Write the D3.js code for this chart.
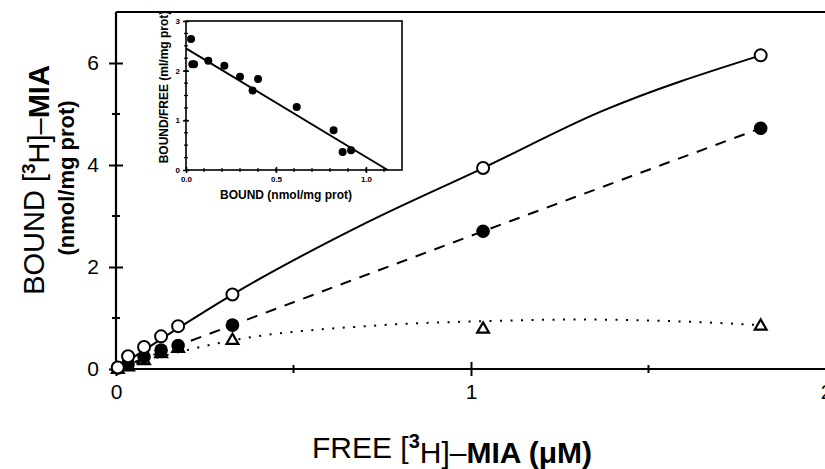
<!DOCTYPE html>
<html><head><meta charset="utf-8">
<script src="https://cdn.jsdelivr.net/npm/d3@7"></script>
<style>body{margin:0;background:#fff}svg{display:block}text{font-family:"Liberation Sans",Arial,Helvetica,sans-serif;fill:#000}</style>
</head><body>
<script>
// ---- main plot data (FREE µM vs BOUND nmol/mg prot)
const freeX    = [0.005, 0.034, 0.079, 0.127, 0.175, 0.328, 1.034, 1.816];
const totalY   = [0.03, 0.25, 0.43, 0.64, 0.84, 1.46, 3.94, 6.15];   // open circles
const specificY= [0.02, 0.10, 0.24, 0.37, 0.46, 0.86, 2.70, 4.72];   // filled circles
const nonspecY = [0.01, 0.06, 0.18, 0.32, 0.42, 0.58, 0.80, 0.86];   // triangles
// fitted curves
const fitTotalX = [0, 0.175, 0.328, 0.7, 1.034, 1.367, 1.816];
const fitTotalY = [0, 0.80, 1.46, 2.85, 3.94, 5.05, 6.15];
const fitSpecX  = [0, 0.328, 1.034, 1.816];
const fitSpecY  = [0, 0.86, 2.70, 4.72];
const fitNonX   = [0, 0.2, 0.328, 0.75, 1.05, 1.3, 1.6, 1.816];
const fitNonY   = [0, 0.37, 0.56, 0.86, 0.94, 0.97, 0.93, 0.86];
const xTicks = [0, 1, 2], xMinor = [0.5, 1.5];
const yTicks = [0, 2, 4, 6], yMinor = [1, 3, 5];
// ---- inset Scatchard data
const insetBound = [0.028, 0.035, 0.045, 0.124, 0.213, 0.30, 0.37, 0.40, 0.615, 0.82, 0.87, 0.917];
const insetBF    = [2.64, 2.13, 2.13, 2.20, 2.10, 1.88, 1.60, 1.83, 1.27, 0.80, 0.36, 0.40];
const insetFitX  = [0, 1.12];
const insetFitY  = [2.45, 0];
const insetXTicks = [0, 0.5, 1.0], insetYTicks = [0, 1, 2, 3];

const W = 825, H = 469;
const svg = d3.select("body").append("svg").attr("width", W).attr("height", H);

const x = d3.scaleLinear([0, 2], [116, 826]);
const y = d3.scaleLinear([0, 7], [369, 12]);

// frame line at top
svg.append("line").attr("x1", x(0)).attr("x2", W).attr("y1", y(7)).attr("y2", y(7)).attr("stroke", "#000").attr("stroke-width", 2);

// axes
const gx = svg.append("g").attr("transform", `translate(0,${y(0)})`)
  .call(d3.axisBottom(x).tickValues(xTicks).tickFormat(d3.format("d")).tickSize(7).tickPadding(8));
const gy = svg.append("g").attr("transform", `translate(${x(0)},0)`)
  .call(d3.axisLeft(y).tickValues(yTicks).tickFormat(d3.format("d")).tickSize(7).tickPadding(12));
[gx, gy].forEach(g => {
  g.select(".domain").attr("stroke", "#000").attr("stroke-width", 2.2);
  g.selectAll(".tick line").attr("stroke-width", 2);
  g.selectAll(".tick text").attr("font-size", 21).attr("fill", "#000");
});
gx.select(".domain").attr("d", `M${x(0)},0H${W}`);
gy.select(".domain").attr("d", `M0,${y(0)}V${y(7)}`);
gx.selectAll(".tick line").attr("y1", -7).attr("y2", 7);
gy.selectAll(".tick line").attr("x1", 7).attr("x2", -7);
gy.selectAll(".tick text").attr("dx", 2);
svg.append("g").selectAll("line").data(xMinor).join("line")
  .attr("x1", d => x(d)).attr("x2", d => x(d)).attr("y1", y(0) - 4).attr("y2", y(0) + 4)
  .attr("stroke", "#000").attr("stroke-width", 2);
svg.append("g").selectAll("line").data(yMinor).join("line")
  .attr("y1", d => y(d)).attr("y2", d => y(d)).attr("x1", x(0) - 4).attr("x2", x(0) + 4)
  .attr("stroke", "#000").attr("stroke-width", 2);

// fitted curves
const line = d3.line().x(d => x(d[0])).y(d => y(d[1])).curve(d3.curveMonotoneX);
svg.append("path").attr("d", line(d3.zip(fitNonX, fitNonY))).attr("fill", "none")
  .attr("stroke", "#000").attr("stroke-width", 2).attr("stroke-dasharray", "2 8.5");
svg.append("path").attr("d", line(d3.zip(fitSpecX, fitSpecY))).attr("fill", "none")
  .attr("stroke", "#000").attr("stroke-width", 2).attr("stroke-dasharray", "11 9");
svg.append("path").attr("d", line(d3.zip(fitTotalX, fitTotalY))).attr("fill", "none")
  .attr("stroke", "#000").attr("stroke-width", 2);

// markers
const tri = d3.symbol().type(d3.symbolTriangle).size(60);
svg.append("g").selectAll("path").data(d3.zip(freeX, nonspecY)).join("path")
  .attr("d", tri).attr("transform", d => `translate(${x(d[0])},${y(d[1]) + 1})`)
  .attr("fill", "#fff").attr("stroke", "#000").attr("stroke-width", 2.2);
svg.append("g").selectAll("circle").data(d3.zip(freeX, specificY)).join("circle")
  .attr("cx", d => x(d[0])).attr("cy", d => y(d[1])).attr("r", 6.8).attr("fill", "#000");
svg.append("g").selectAll("circle").data(d3.zip(freeX, totalY)).join("circle")
  .attr("cx", d => x(d[0])).attr("cy", d => y(d[1])).attr("r", 6).attr("fill", "#fff")
  .attr("stroke", "#000").attr("stroke-width", 2);

// axis titles
const yt = svg.append("text").attr("transform", "translate(44,180) rotate(-90)")
  .attr("text-anchor", "middle").attr("font-size", 29);
yt.append("tspan").text("BOUND [");
yt.append("tspan").attr("dy", "-0.5em").attr("font-size", 19).attr("font-weight", "bold").text("3");
yt.append("tspan").attr("dy", "0.5em").text("H]–");
yt.append("tspan").attr("font-weight", "bold").text("MIA");
svg.append("text").attr("transform", "translate(74,178) rotate(-90)")
  .attr("text-anchor", "middle").attr("font-size", 22).attr("font-weight", "bold").text("(nmol/mg prot)");

const xt = svg.append("text").attr("x", 452).attr("y", 458).attr("text-anchor", "middle").attr("font-size", 30);
xt.append("tspan").text("FREE [");
xt.append("tspan").attr("dy", "-0.5em").attr("font-size", 20).attr("font-weight", "bold").text("3");
xt.append("tspan").attr("dy", "0.5em").text("H]–");
xt.append("tspan").attr("font-weight", "bold").text("MIA (μM)");

// ---- inset
const ix = d3.scaleLinear([0, 1.2], [186, 402]);
const iy = d3.scaleLinear([0, 3], [170, 21]);
const ins = svg.append("g");
ins.append("rect").attr("x", ix(0)).attr("y", iy(3)).attr("width", ix(1.2) - ix(0)).attr("height", iy(0) - iy(3))
  .attr("fill", "#fff").attr("stroke", "#000").attr("stroke-width", 1.6);
const ixAxis = ins.append("g").attr("transform", `translate(0,${iy(0)})`)
  .call(d3.axisBottom(ix).tickValues(insetXTicks).tickFormat(d3.format(".1f")).tickSize(3).tickPadding(3));
const iyAxis = ins.append("g").attr("transform", `translate(${ix(0)},0)`)
  .call(d3.axisLeft(iy).tickValues(insetYTicks).tickFormat(d3.format("d")).tickSize(3).tickPadding(3));
[ixAxis, iyAxis].forEach(g => {
  g.select(".domain").remove();
  g.selectAll(".tick line").attr("stroke-width", 1.5);
  g.selectAll(".tick text").attr("font-size", 8).attr("font-weight", "bold").attr("fill", "#000");
});
ixAxis.selectAll(".tick line").attr("y1", -3).attr("y2", 3);
iyAxis.selectAll(".tick line").attr("x1", 3).attr("x2", -3);
ins.append("g").selectAll("line").data(d3.range(1, 12).map(i => i / 10)).join("line")
  .attr("x1", d => ix(d)).attr("x2", d => ix(d)).attr("y1", iy(0) - 2).attr("y2", iy(0) + 2).attr("stroke", "#000").attr("stroke-width", 1.2);
ins.append("g").selectAll("line").data(d3.range(1, 12).map(i => i / 4)).join("line")
  .attr("y1", d => iy(d)).attr("y2", d => iy(d)).attr("x1", ix(0) - 2).attr("x2", ix(0) + 2).attr("stroke", "#000").attr("stroke-width", 1.2);
ins.append("path").attr("d", d3.line().x(d => ix(d[0])).y(d => iy(d[1]))(d3.zip(insetFitX, insetFitY)))
  .attr("stroke", "#000").attr("stroke-width", 2).attr("fill", "none");
ins.append("g").selectAll("circle").data(d3.zip(insetBound, insetBF)).join("circle")
  .attr("cx", d => ix(d[0])).attr("cy", d => iy(d[1])).attr("r", 4).attr("fill", "#000");
ins.append("text").attr("x", (ix(0) + ix(1.2)) / 2 - 8).attr("y", 199).attr("text-anchor", "middle")
  .attr("font-size", 12).attr("font-weight", "bold").text("BOUND (nmol/mg prot)");
ins.append("text").attr("transform", "translate(168,87) rotate(-90)").attr("text-anchor", "middle")
  .attr("font-size", 12).attr("font-weight", "bold").text("BOUND/FREE (ml/mg prot)");
</script>
</body></html>
